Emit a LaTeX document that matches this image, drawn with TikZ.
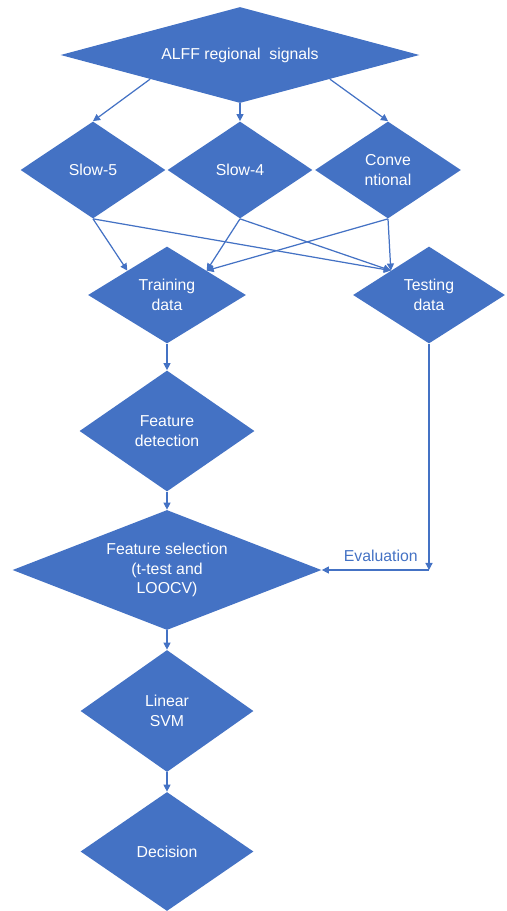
\documentclass[tikz,border=0pt]{standalone}
\usepackage{fontspec}
\setmainfont{Liberation Sans}
\usepackage{tikz}
\usetikzlibrary{shapes.geometric}
\usetikzlibrary{arrows.meta}
\definecolor{flowblue}{HTML}{4472C4}
\tikzset{
    diam/.style={diamond, fill=flowblue, text=white, inner sep=0pt, align=center,
        font=\fontsize{9}{11}\selectfont},
    flow/.style={draw=flowblue, line width=0.7pt, -{Triangle[length=4pt,width=4pt]}}
}
\begin{document}
\begin{tikzpicture}
    \useasboundingbox (0, 0) rectangle (10.12, -18.22);
    % signals
    \node [diam, minimum width=7.18cm, minimum height=1.92cm, aspect=3.74] (alff) at (4.8, -1.1) {ALFF regional\ \ signals};
    % frequency bands
    \node [diam, minimum width=2.9cm, minimum height=1.94cm, aspect=1.5] (slow5) at (1.86, -3.4) {Slow-5};
    \node [diam, minimum width=2.9cm, minimum height=1.94cm, aspect=1.5] (slow4) at (4.8, -3.4) {Slow-4};
    \node [diam, minimum width=2.92cm, minimum height=1.94cm, aspect=1.5] (conv) at (7.76, -3.4) {Conve\\ntional};
    \draw [flow] (alff.south west) to (slow5.north);
    \draw [flow] (alff.south) to (slow4.north);
    \draw [flow] (alff.south east) to (conv.north);
    % data split
    \node [diam, minimum width=3.16cm, minimum height=1.94cm, aspect=1.63] (train) at (3.34, -5.9) {Training\\data};
    \node [diam, minimum width=3.04cm, minimum height=1.94cm, aspect=1.57] (test) at (8.58, -5.9) {Testing\\data};
    \draw [flow] (slow5.south) to (train.north west);
    \draw [flow] (slow5.south) to (test.north west);
    \draw [flow] (slow4.south) to (train.north east);
    \draw [flow] (slow4.south) to (test.north west);
    \draw [flow] (conv.south) to (train.north east);
    \draw [flow] (conv.south) to (test.north west);
    % pipeline
    \node [diam, minimum width=3.5cm, minimum height=2.42cm, aspect=1.45] (featdet) at (3.34, -8.62) {Feature\\detection};
    \node [diam, minimum width=6.18cm, minimum height=2.4cm, aspect=2.575] (featsel) at (3.34, -11.4) {Feature selection\\(t-test and\\LOOCV)};
    \node [diam, minimum width=3.46cm, minimum height=2.44cm, aspect=1.42] (svm) at (3.34, -14.22) {Linear\\SVM};
    \node [diam, minimum width=3.46cm, minimum height=2.38cm, aspect=1.45] (decision) at (3.34, -17.03) {Decision};
    \draw [flow] (train.south) to (featdet.north);
    \draw [flow] (featdet.south) to (featsel.north);
    \draw [flow] (featsel.south) to (svm.north);
    \draw [flow] (svm.south) to (decision.north);
    % evaluation path
    \coordinate (evalcorner) at (test |- featsel);
    \draw [flow] (test.south) to (evalcorner);
    \draw [flow] (evalcorner) to node[above=1pt, pos=0.45, text=flowblue, font=\fontsize{9}{11}\selectfont] {Evaluation} (featsel.east);
\end{tikzpicture}
\end{document}
